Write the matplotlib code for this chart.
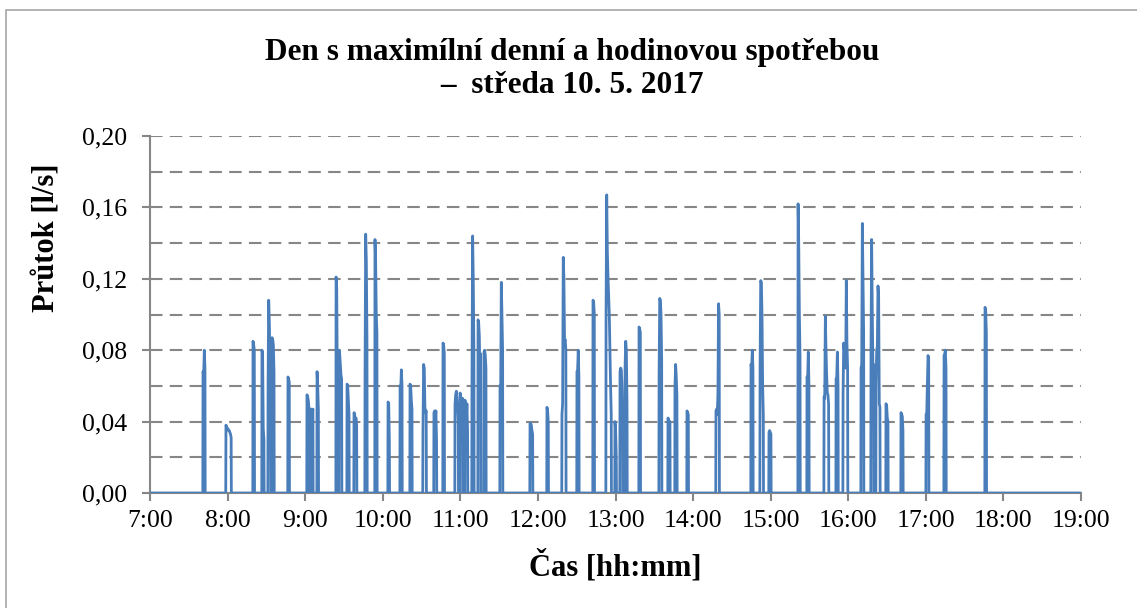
import matplotlib
matplotlib.use("Agg")
import matplotlib.pyplot as plt
from matplotlib.patches import Rectangle
from matplotlib.ticker import FuncFormatter, MultipleLocator

plt.rcParams["font.family"] = ["Liberation Serif", "DejaVu Serif"]

TITLE = "Den s maximílní denní a hodinovou spotřebou\n–  středa 10. 5. 2017"
X_LABEL = "Čas [hh:mm]"
Y_LABEL = "Průtok [l/s]"

# logger samples every 30 s inside each draw-off event, zero flow otherwise
SAMPLE_S = 30
burst_start = [
    "07:41:00", "07:58:45", "08:19:40", "08:26:36", "08:31:18", "08:34:24",
    "08:46:42", "09:01:24", "09:04:30", "09:09:12", "09:23:54", "09:26:12",
    "09:32:24", "09:37:48", "09:46:18", "09:54:00", "10:04:06", "10:13:24",
    "10:21:06", "10:31:06", "10:39:36", "10:46:36", "10:55:54", "10:59:48",
    "11:03:36", "11:09:00", "11:13:42", "11:18:18", "11:30:42", "11:53:54",
    "12:07:00", "12:18:36", "12:30:12", "12:42:36", "12:52:42", "12:59:36",
    "13:03:30", "13:07:24", "13:18:12", "13:33:42", "13:40:36", "13:46:00",
    "13:55:18", "14:17:42", "14:44:48", "14:51:48", "14:58:42", "15:21:12",
    "15:28:06", "15:41:18", "15:50:36", "15:56:00", "16:09:54", "16:17:36",
    "16:21:30", "16:29:12", "16:40:48", "17:00:12", "17:14:06", "17:45:48",
]
burst_flow = [
    [0.068, 0.066, 0.080, 0.070],
    [0.038, 0.037, 0.036, 0.036, 0.035, 0.035, 0.034, 0.033, 0.031],
    [0.085, 0.083, 0.080],
    [0.080, 0.078, 0.036, 0.030],
    [0.060, 0.108, 0.095, 0.072, 0.040],
    [0.087, 0.086, 0.083, 0.068],
    [0.065, 0.064, 0.062],
    [0.055, 0.054, 0.052, 0.048],
    [0.047, 0.047, 0.045, 0.047],
    [0.068, 0.060, 0.047],
    [0.121, 0.115, 0.060],
    [0.080, 0.078, 0.072, 0.066, 0.064],
    [0.061, 0.060, 0.052, 0.044],
    [0.045, 0.044, 0.040, 0.042, 0.038],
    [0.066, 0.145, 0.130, 0.085],
    [0.142, 0.130, 0.100, 0.090],
    [0.051, 0.050, 0.030],
    [0.060, 0.058, 0.069, 0.060],
    [0.061, 0.060, 0.052, 0.047],
    [0.035, 0.072, 0.070, 0.048, 0.045, 0.046],
    [0.045, 0.046, 0.040, 0.046, 0.030],
    [0.084, 0.083, 0.078],
    [0.050, 0.055, 0.057, 0.053, 0.048, 0.040],
    [0.056, 0.054, 0.050, 0.045, 0.053],
    [0.052, 0.048, 0.040, 0.050, 0.035],
    [0.060, 0.144, 0.120, 0.080],
    [0.097, 0.095, 0.088, 0.060, 0.078],
    [0.079, 0.080, 0.077, 0.070],
    [0.060, 0.059, 0.118, 0.100, 0.080],
    [0.039, 0.039, 0.038, 0.035, 0.033],
    [0.048, 0.046, 0.040],
    [0.044, 0.050, 0.132, 0.120, 0.085, 0.086, 0.080],
    [0.068, 0.069, 0.080, 0.065],
    [0.108, 0.107, 0.100],
    [0.100, 0.167, 0.135, 0.121, 0.110, 0.100, 0.080, 0.060, 0.044],
    [0.040, 0.035, 0.020],
    [0.068, 0.070, 0.069, 0.060, 0.040],
    [0.070, 0.085, 0.080, 0.050],
    [0.093, 0.092, 0.090],
    [0.065, 0.109, 0.108, 0.100, 0.075],
    [0.042, 0.041, 0.038, 0.040],
    [0.060, 0.072, 0.065, 0.055],
    [0.046, 0.045, 0.044],
    [0.046, 0.047, 0.044, 0.055, 0.106, 0.100],
    [0.072, 0.070, 0.080, 0.070],
    [0.070, 0.119, 0.118, 0.100, 0.060, 0.044],
    [0.034, 0.035, 0.034, 0.033],
    [0.162, 0.140, 0.100, 0.077],
    [0.065, 0.064, 0.079, 0.060],
    [0.054, 0.053, 0.099, 0.080, 0.066, 0.056, 0.055, 0.050],
    [0.064, 0.065, 0.079, 0.060],
    [0.056, 0.084, 0.080, 0.072, 0.070, 0.119, 0.084, 0.070],
    [0.070, 0.072, 0.151, 0.120, 0.090],
    [0.080, 0.142, 0.100, 0.070, 0.072],
    [0.060, 0.080, 0.082, 0.116, 0.110, 0.050, 0.048],
    [0.050, 0.049, 0.042, 0.040],
    [0.045, 0.044, 0.043, 0.035],
    [0.044, 0.045, 0.060, 0.077, 0.075],
    [0.077, 0.078, 0.080, 0.070],
    [0.104, 0.102, 0.090],
]

DAY_START = 7
DAY_END = 19


def to_hours(hms):
    h, m, s = (int(p) for p in hms.split(":"))
    return h + m / 60 + s / 3600


# build the full series (zero flow between events)
step = SAMPLE_S / 3600
t = [DAY_START]
q = [0.0]
for start, vals in zip(burst_start, burst_flow):
    h0 = to_hours(start)
    t.append(h0 - step / 3)
    q.append(0.0)
    for i, v in enumerate(vals):
        t.append(h0 + i * step)
        q.append(v)
    t.append(h0 + (len(vals) - 1) * step + step / 3)
    q.append(0.0)
t.append(DAY_END)
q.append(0.0)

fig = plt.figure(figsize=(11.37, 6.08), dpi=100)
ax = fig.add_axes([150 / 1137, 1 - 493 / 608, 931 / 1137, 357 / 608])

grey = "#868686"
for y in [0.02 * k for k in range(1, 11)]:
    ax.axhline(y, color=grey, lw=1.5, ls=(0, (6, 3.5)), zorder=1)

ax.plot(t, q, color="#4A7EBB", lw=2.0, zorder=3, solid_joinstyle="round")

ax.set_xlim(DAY_START, DAY_END)
ax.set_ylim(0, 0.20)
ax.xaxis.set_major_locator(MultipleLocator(1))
ax.yaxis.set_major_locator(MultipleLocator(0.04))
ax.xaxis.set_major_formatter(FuncFormatter(lambda v, p: f"{int(round(v))}:00"))
ax.yaxis.set_major_formatter(FuncFormatter(lambda v, p: f"{v:.2f}".replace(".", ",")))

for s in ["top", "right"]:
    ax.spines[s].set_visible(False)
for s in ["left", "bottom"]:
    ax.spines[s].set_color(grey)
    ax.spines[s].set_linewidth(1.5)
ax.tick_params(axis="both", colors=grey, labelcolor="black", width=1.5,
               length=6, labelsize=18.5)
ax.tick_params(axis="y", pad=10.5)
ax.tick_params(axis="x", pad=6)

fig.text(0.503, 1 - 69 / 608, TITLE, ha="center", va="center",
         fontsize=22.5, fontweight="bold", linespacing=1.2)
fig.text(615 / 1137, 1 - 566 / 608, X_LABEL, ha="center", va="center",
         fontsize=22, fontweight="bold")
fig.text(47 / 1137, 1 - 238 / 608, Y_LABEL, ha="center", va="center",
         rotation=90, fontsize=22, fontweight="bold")

# chart frame (clipped by the image edges on the right and bottom)
fig.patches.append(Rectangle((6 / 1137, -0.05), 1.2, 1 - 10 / 608 + 0.05,
                             transform=fig.transFigure, fill=False,
                             edgecolor="#a6a6a6", lw=1.2))

fig.savefig("out.png", dpi=100)
